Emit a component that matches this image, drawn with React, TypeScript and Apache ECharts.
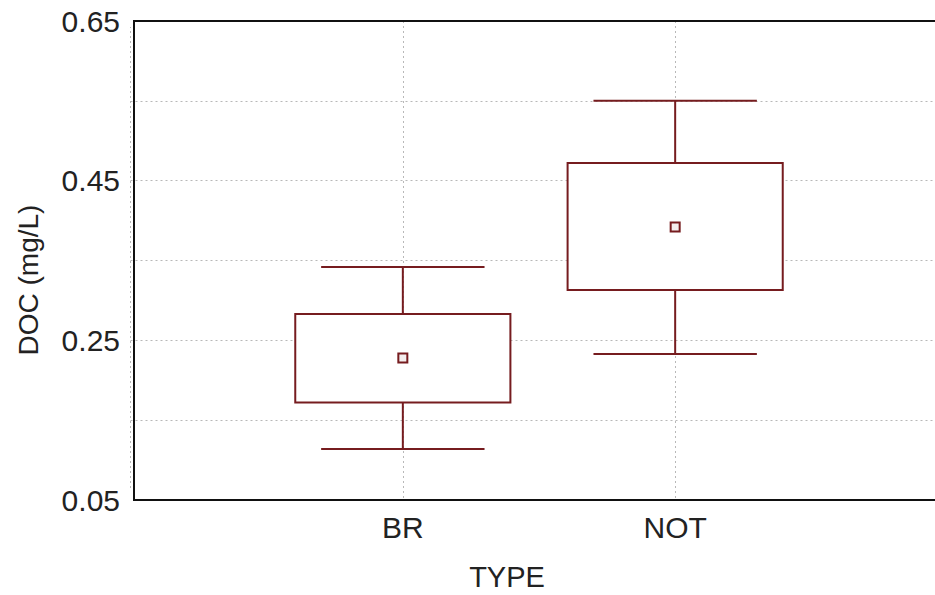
import React, { useEffect, useRef } from "react";
import * as echarts from "echarts";

const categories = ["BR", "NOT"];
const categoryX = [1, 2];
const whiskerLow = [0.114, 0.233];
const boxLow = [0.172, 0.313];
const means = [0.228, 0.392];
const boxHigh = [0.283, 0.472];
const whiskerHigh = [0.342, 0.55];
const yTickLabels = [0.05, 0.25, 0.45, 0.65];

const FONT = "Arial, 'Liberation Sans', sans-serif";
const BOX_COLOR = "#761c1f";

export default function App() {
  const ref = useRef<HTMLDivElement>(null);
  useEffect(() => {
    if (!ref.current) return;
    const chart = echarts.init(ref.current, undefined, { renderer: "svg" });
    const data = categories.map((_, i) => [
      categoryX[i],
      whiskerLow[i],
      boxLow[i],
      means[i],
      boxHigh[i],
      whiskerHigh[i],
    ]);
    const option: any = {
      animation: false,
      backgroundColor: "#ffffff",
      grid: { left: 130.5, top: 21, bottom: 95, width: 817, containLabel: false },
      xAxis: [
        {
          type: "value",
          min: 0,
          max: 3,
          interval: 1,
          axisLine: { show: true, onZero: false, lineStyle: { color: "#111", width: 2 } },
          axisTick: { show: false },
          splitLine: { show: true, lineStyle: { color: "#b8b8b8", type: [2, 3], width: 1 } },
          axisLabel: {
            margin: 12,
            fontSize: 30,
            fontFamily: FONT,
            color: "#222",
            formatter: (v: number) => {
              const idx = categoryX.findIndex((c) => Math.abs(c - v) < 1e-6);
              return idx >= 0 ? categories[idx] : "";
            },
          },
        },
        {
          type: "value",
          position: "top",
          min: 0,
          max: 3,
          axisLine: { show: true, onZero: false, lineStyle: { color: "#111", width: 2 } },
          axisTick: { show: false },
          axisLabel: { show: false },
          splitLine: { show: false },
        },
      ],
      yAxis: {
        type: "value",
        min: 0.05,
        max: 0.65,
        interval: 0.1,
        offset: -3.5,
        axisLine: { show: true, onZero: false, lineStyle: { color: "#111", width: 2 } },
        axisTick: { show: false },
        splitLine: { show: true, lineStyle: { color: "#b8b8b8", type: [2, 3], width: 1 } },
        axisLabel: {
          margin: 14,
          fontSize: 30,
          fontFamily: FONT,
          color: "#222",
          formatter: (v: number) => {
            const hit = yTickLabels.find((t) => Math.abs(t - v) < 1e-6);
            return hit !== undefined ? hit.toFixed(2) : "";
          },
        },
      },
      graphic: [
        {
          type: "rect",
          shape: { x: 128, y: 490, width: 5, height: 15 },
          style: { fill: "#ffffff" },
          z: 100,
        },
        {
          type: "rect",
          shape: { x: 128, y: 15, width: 5, height: 12 },
          style: { fill: "#ffffff" },
          z: 100,
        },
        {
          type: "text",
          x: 507,
          y: 577,
          style: {
            text: "TYPE",
            fontSize: 29,
            fontFamily: FONT,
            fill: "#222",
            align: "center",
            verticalAlign: "middle",
          },
        },
        {
          type: "text",
          x: 28,
          y: 280,
          rotation: Math.PI / 2,
          style: {
            text: "DOC (mg/L)",
            fontSize: 28,
            fontFamily: FONT,
            fill: "#222",
            align: "center",
            verticalAlign: "middle",
          },
        },
      ],
      series: [
        {
          type: "custom",
          xAxisIndex: 0,
          yAxisIndex: 0,
          data,
          encode: { x: 0, y: [1, 2, 3, 4, 5] },
          renderItem: (params: any, api: any) => {
            const x = api.value(0);
            const pLo = api.coord([x, api.value(1)]);
            const pQ1 = api.coord([x, api.value(2)]);
            const pMean = api.coord([x, api.value(3)]);
            const pQ3 = api.coord([x, api.value(4)]);
            const pHi = api.coord([x, api.value(5)]);
            const halfBox = api.size([0.395, 0])[0];
            const halfCap = api.size([0.3, 0])[0];
            const cx = pQ1[0];
            const lineStyle = { stroke: BOX_COLOR, lineWidth: 2, fill: null };
            const m = 4.5;
            return {
              type: "group",
              children: [
                {
                  type: "line",
                  shape: { x1: cx, y1: pQ3[1], x2: cx, y2: pHi[1] },
                  style: lineStyle,
                },
                {
                  type: "line",
                  shape: { x1: cx - halfCap, y1: pHi[1], x2: cx + halfCap, y2: pHi[1] },
                  style: lineStyle,
                },
                {
                  type: "line",
                  shape: { x1: cx, y1: pQ1[1], x2: cx, y2: pLo[1] },
                  style: lineStyle,
                },
                {
                  type: "line",
                  shape: { x1: cx - halfCap, y1: pLo[1], x2: cx + halfCap, y2: pLo[1] },
                  style: lineStyle,
                },
                {
                  type: "rect",
                  shape: {
                    x: cx - halfBox,
                    y: pQ3[1],
                    width: halfBox * 2,
                    height: pQ1[1] - pQ3[1],
                  },
                  style: { stroke: BOX_COLOR, lineWidth: 2, fill: "#ffffff" },
                },
                {
                  type: "rect",
                  shape: { x: cx - m, y: pMean[1] - m, width: m * 2, height: m * 2 },
                  style: { stroke: BOX_COLOR, lineWidth: 2, fill: "#f4eeee" },
                },
              ],
            };
          },
        },
      ],
    };
    chart.setOption(option);
    return () => chart.dispose();
  }, []);
  return (
    <div
      style={{
        position: "fixed",
        left: 0,
        top: 0,
        width: 935,
        height: 595,
        overflow: "hidden",
        background: "#fff",
      }}
    >
      <div ref={ref} style={{ width: 960, height: 595 }} />
    </div>
  );
}
